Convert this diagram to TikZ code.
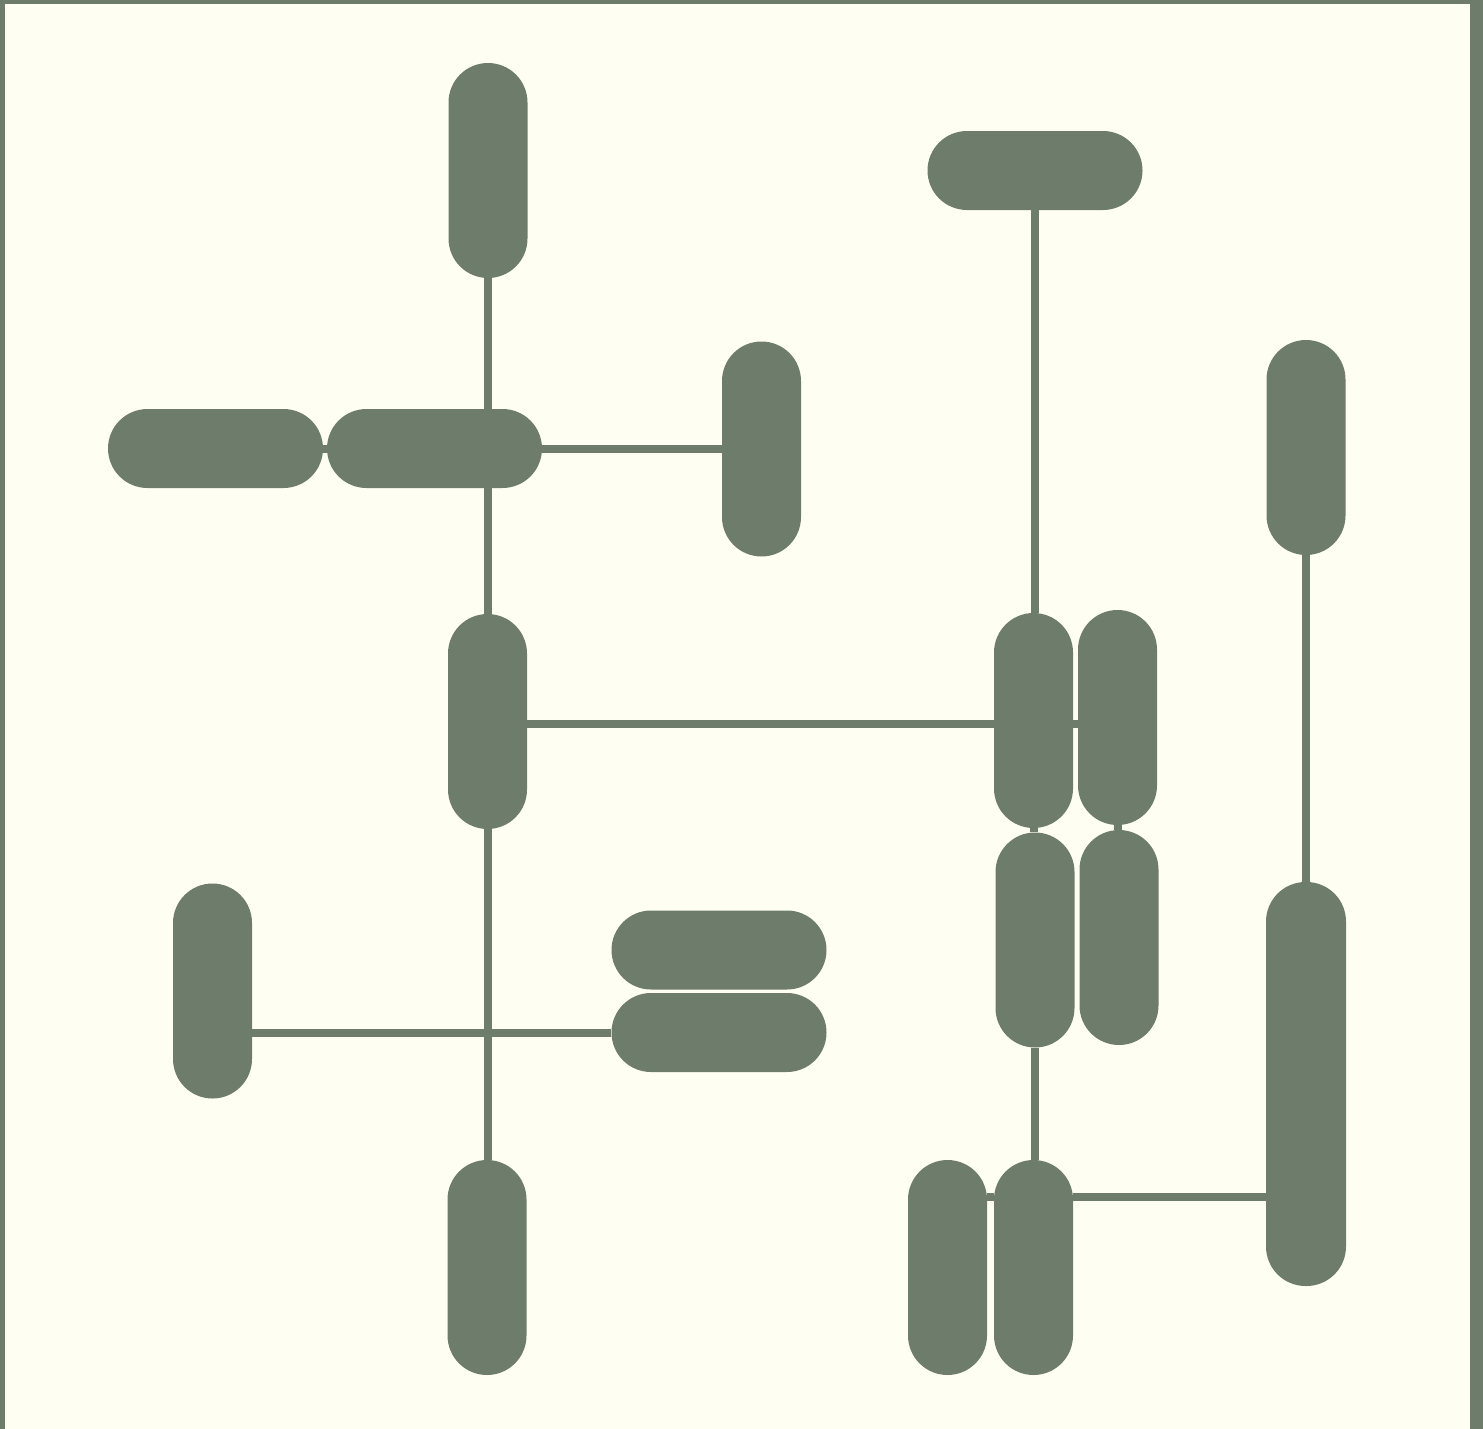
\documentclass[tikz,border=0pt]{standalone}
\definecolor{bgc}{RGB}{254,255,242}
\definecolor{ink}{RGB}{110,124,108}
\begin{document}
\begin{tikzpicture}[x=1pt,y=-1pt,
  pill/.style={rectangle, fill=ink, draw=none, inner sep=0pt, rounded corners=39.5pt},
  vpill/.style={pill, minimum width=79pt, minimum height=215pt},
  hpill/.style={pill, minimum width=215pt, minimum height=79pt},
  link/.style={draw=ink, line width=8pt}]
\useasboundingbox (0,0) rectangle (1483,1429);
\fill[ink] (0,0) rectangle (1483,1429);
\fill[bgc] (5,4) rectangle (1470,1429);
% pills
\node[vpill] (p1) at (488,170.5) {};
\node[hpill] (p2) at (215.5,448.5) {};
\node[hpill] (p3) at (434.5,448.5) {};
\node[vpill] (p4) at (761.5,449) {};
\node[hpill] (p5) at (1035,170.5) {};
\node[vpill] (p6) at (1306,447.5) {};
\node[vpill] (p7) at (487.5,721.5) {};
\node[vpill] (p8) at (1033.5,720.5) {};
\node[vpill] (p9) at (1117.5,717.5) {};
\node[vpill] (p10) at (1035,940) {};
\node[vpill] (p11) at (1119,937.5) {};
\node[vpill] (p12) at (212.5,991) {};
\node[hpill] (p13) at (719,950) {};
\node[hpill] (p14) at (719,1032.5) {};
\node[pill, minimum width=80pt, minimum height=404pt] (p15) at (1306,1084) {};
\node[vpill] (p16) at (487,1267.5) {};
\node[vpill] (p17) at (947.5,1267.5) {};
\node[vpill] (p18) at (1033.5,1267.5) {};
% connectors
\draw[link] (p1.south) -- (p1.south |- p7.north);
\draw[link] (p2.east) -- (p3.west);
\draw[link] (p3.east) -- (p3.east -| p4.west);
\draw[link] (p5.south) -- (p5.south |- p8.north);
\draw[link] ([yshift=-2.5pt]p7.east) -- ([yshift=-2.5pt]p7.east -| p8.west);
\draw[link] ([yshift=-3.5pt]p8.east) -- ([yshift=-3.5pt]p8.east -| p9.west);
\draw[link] (p8.south) -- (p8.south |- p10.north);
\draw[link] (p9.south) -- (p9.south |- p11.north);
\draw[link] (p6.south) -- (p6.south |- p15.north);
\draw[link] (p7.south) -- (p7.south |- p16.north);
\draw[link] (p14.west) -- (p14.west -| p12.east);
\draw[link] (p10.south) -- (p10.south |- p18.north);
\coordinate (hy) at (0,1197);
\draw[link] (p17.east |- hy) -- (p18.west |- hy);
\draw[link] (p18.east |- hy) -- (p15.west |- hy);
\end{tikzpicture}
\end{document}
